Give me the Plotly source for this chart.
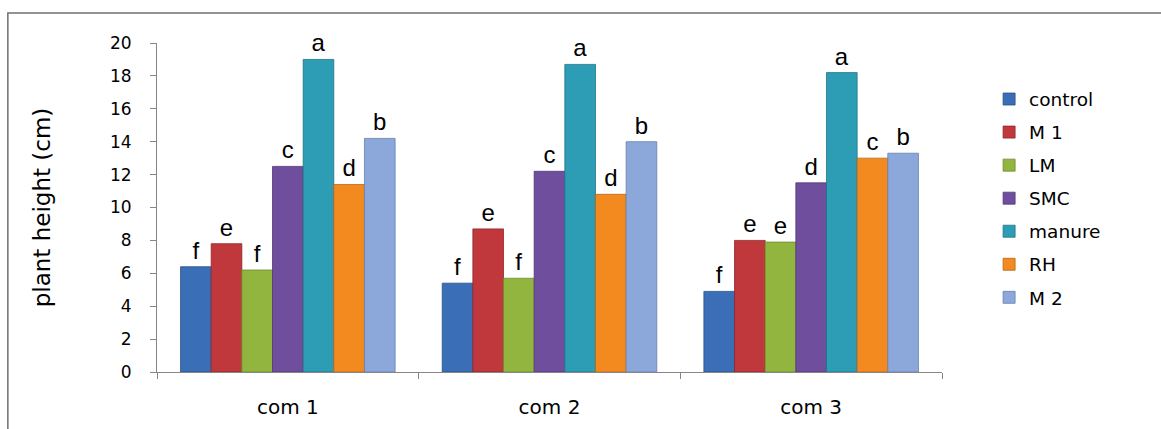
import plotly.graph_objects as go

# Plant height (cm) per compost mix and amendment, with significance letters
groups = ["com 1", "com 2", "com 3"]
treatments = ["control", "M 1", "LM", "SMC", "manure", "RH", "M 2"]

control = [6.4, 5.4, 4.9]
m1 = [7.8, 8.7, 8.0]
lm = [6.2, 5.7, 7.9]
smc = [12.5, 12.2, 11.5]
manure = [19.0, 18.7, 18.2]
rh = [11.4, 10.8, 13.0]
m2 = [14.2, 14.0, 13.3]

letters_control = ["f", "f", "f"]
letters_m1 = ["e", "e", "e"]
letters_lm = ["f", "f", "e"]
letters_smc = ["c", "c", "d"]
letters_manure = ["a", "a", "a"]
letters_rh = ["d", "d", "c"]
letters_m2 = ["b", "b", "b"]

series = [control, m1, lm, smc, manure, rh, m2]
letters = [letters_control, letters_m1, letters_lm, letters_smc,
           letters_manure, letters_rh, letters_m2]
colors = ["#3A6EB6", "#C0383B", "#92B53F", "#6F4E9E",
          "#2C9DB4", "#F28A20", "#8CA8DA"]
edges = ["#2A5089", "#8E2628", "#6C8A2C", "#513777",
         "#1F7486", "#B8661A", "#6680AE"]

base_font = "DejaVu Sans, Open Sans, sans-serif"

fig = go.Figure()
for name, vals, lab, col, edge in zip(treatments, series, letters, colors, edges):
    fig.add_trace(go.Bar(
        x=groups, y=vals, name=name, legendgroup=name,
        marker=dict(color=col, line=dict(color=edge, width=0.8)),
        text=lab, textposition="outside", cliponaxis=False,
        textfont=dict(family="Liberation Sans, Arial", size=24, color="black"),
    ))

axis_gray = "#868686"
fig.update_layout(
    width=1161, height=429,
    margin=dict(l=157, r=219, t=43, b=57, autoexpand=False),
    paper_bgcolor="white", plot_bgcolor="white",
    barmode="group", bargap=0.18, bargroupgap=0,
    font=dict(family=base_font, size=17, color="black"),
    showlegend=True,
    legend=dict(
        x=1.06, y=0.886, xanchor="left", yanchor="top",
        traceorder="grouped", tracegroupgap=6,
        font=dict(family=base_font, size=18.5, color="black"),
        bgcolor="rgba(0,0,0,0)",
    ),
)
fig.update_yaxes(
    range=[0, 20], dtick=2, showgrid=False, zeroline=False, automargin=False,
    showline=True, linecolor=axis_gray, linewidth=1,
    ticks="outside", ticklen=6, tickcolor=axis_gray,
    tickfont=dict(family=base_font, size=17), ticklabelstandoff=15,
    title=dict(text="plant height (cm)", standoff=52,
               font=dict(family=base_font, size=23)),
)
fig.update_xaxes(
    showgrid=False, automargin=False,
    showline=True, linecolor=axis_gray, linewidth=1,
    ticks="outside", ticklen=6, tickcolor=axis_gray, tickson="boundaries",
    tickfont=dict(family=base_font, size=20), ticklabelstandoff=17,
)

# Outer chart frame
fig.add_shape(type="rect", xref="paper", yref="paper",
              x0=-0.19, x1=1.4, y0=-0.4, y1=1.091,
              line=dict(color="#6f6f6f", width=1.5),
              fillcolor="rgba(0,0,0,0)", layer="below")

fig.write_html("out.html")
